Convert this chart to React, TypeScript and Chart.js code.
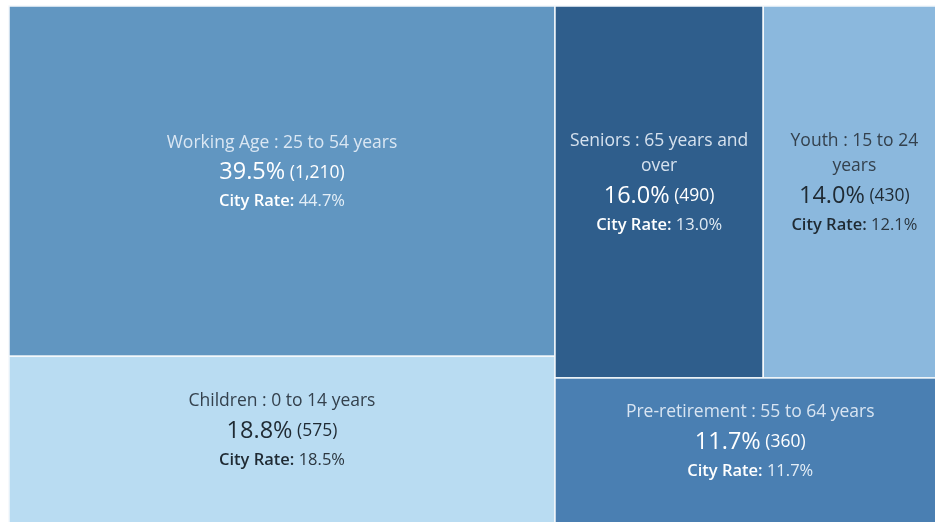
import { useEffect, useRef } from 'react';
import { Chart, registerables } from 'chart.js';
Chart.register(...registerables);

const categories = [
  'Working Age : 25 to 54 years',
  'Children : 0 to 14 years',
  'Seniors : 65 years and over',
  'Youth : 15 to 24 years',
  'Pre-retirement : 55 to 64 years',
];
const shares = [39.5, 18.8, 16.0, 14.0, 11.7];
const counts = [1210, 575, 490, 430, 360];
const cityRates = [44.7, 18.5, 13.0, 12.1, 11.7];
const fillColors = ['#6196c1', '#b9dcf2', '#2f5e8c', '#8bb8dd', '#4a7fb2'];
const darkText = [false, true, false, true, false];

// treemap nesting: h = side by side, v = stacked
type Node = number | { dir: 'h' | 'v'; children: Node[] };
const layoutTree: Node = {
  dir: 'h',
  children: [
    { dir: 'v', children: [0, 1] },
    { dir: 'v', children: [{ dir: 'h', children: [2, 3] }, 4] },
  ],
};

type Rect = { i: number; x0: number; x1: number; y0: number; y1: number };

function nodeSum(n: Node): number {
  if (typeof n === 'number') return shares[n];
  return n.children.reduce((s, c) => s + nodeSum(c), 0);
}

function layout(n: Node, x0: number, x1: number, y0: number, y1: number, out: Rect[]) {
  if (typeof n === 'number') {
    out.push({ i: n, x0, x1, y0, y1 });
    return;
  }
  const total = nodeSum(n);
  let pos = n.dir === 'h' ? x0 : y0;
  for (const c of n.children) {
    const f = nodeSum(c) / total;
    if (n.dir === 'h') {
      const w = (x1 - x0) * f;
      layout(c, pos, pos + w, y0, y1, out);
      pos += w;
    } else {
      const h = (y1 - y0) * f;
      layout(c, x0, x1, pos, pos + h, out);
      pos += h;
    }
  }
}

const rects: Rect[] = [];
layout(layoutTree, 0, 100, 0, 100, rects);

const FONT = '"Open Sans", "Noto Sans", sans-serif';
const LABEL_FONT = `17.5px ${FONT}`;
const PCT_FONT = `23.5px ${FONT}`;
const COUNT_FONT = `17.5px ${FONT}`;
const CITY_BOLD = `600 16.5px ${FONT}`;
const CITY_FONT = `16.5px ${FONT}`;

function wrap(ctx: CanvasRenderingContext2D, text: string, maxW: number): string[] {
  const words = text.split(' ');
  const lines: string[] = [];
  let cur = '';
  for (const w of words) {
    const t = cur ? cur + ' ' + w : w;
    if (ctx.measureText(t).width > maxW && cur) {
      lines.push(cur);
      cur = w;
    } else cur = t;
  }
  if (cur) lines.push(cur);
  return lines;
}

type Seg = { text: string; font: string; color: string };
function drawSegs(ctx: CanvasRenderingContext2D, segs: Seg[], cx: number, cy: number) {
  let total = 0;
  const ws = segs.map((s) => {
    ctx.font = s.font;
    const w = ctx.measureText(s.text).width;
    total += w;
    return w;
  });
  let x = cx - total / 2;
  segs.forEach((s, k) => {
    ctx.font = s.font;
    ctx.fillStyle = s.color;
    ctx.fillText(s.text, x, cy);
    x += ws[k];
  });
}

const treemapPlugin = {
  id: 'treemapCells',
  beforeDatasetsDraw(chart: any) {
    const ctx: CanvasRenderingContext2D = chart.ctx;
    const xs = chart.scales.x;
    const ys = chart.scales.y;
    ctx.save();
    for (const r of rects) {
      const px0 = xs.getPixelForValue(r.x0);
      const px1 = xs.getPixelForValue(r.x1);
      const py0 = ys.getPixelForValue(r.y0);
      const py1 = ys.getPixelForValue(r.y1);
      ctx.fillStyle = fillColors[r.i];
      ctx.fillRect(px0, py0, px1 - px0, py1 - py0);
      ctx.strokeStyle = '#f4f8fb';
      ctx.lineWidth = 1.5;
      ctx.strokeRect(px0, py0, px1 - px0, py1 - py0);
    }
    for (const r of rects) {
      const px0 = xs.getPixelForValue(r.x0);
      const px1 = xs.getPixelForValue(r.x1);
      const py0 = ys.getPixelForValue(r.y0);
      const py1 = ys.getPixelForValue(r.y1);
      const cx = (px0 + px1) / 2;
      const cy = (py0 + py1) / 2 - 9;
      const dark = darkText[r.i];
      const labelColor = dark ? '#34414d' : 'rgba(232,240,248,0.9)';
      const mainColor = dark ? '#1f2a33' : '#ffffff';
      const subColor = dark ? '#2c3740' : 'rgba(240,246,252,0.92)';
      ctx.textBaseline = 'middle';
      ctx.textAlign = 'left';
      ctx.font = LABEL_FONT;
      const lines = wrap(ctx, categories[r.i], px1 - px0 - 22);
      const lineH = 25;
      const labelBlock = (lines.length - 1) * lineH;
      const blockH = labelBlock + 30 + 29;
      let y = cy - blockH / 2;
      for (const ln of lines) {
        drawSegs(ctx, [{ text: ln, font: LABEL_FONT, color: labelColor }], cx, y);
        y += lineH;
      }
      y += 30 - lineH;
      drawSegs(
        ctx,
        [
          { text: shares[r.i].toFixed(1) + '%', font: PCT_FONT, color: mainColor },
          { text: ' (' + counts[r.i].toLocaleString('en-US') + ')', font: COUNT_FONT, color: mainColor },
        ],
        cx,
        y
      );
      y += 29;
      drawSegs(
        ctx,
        [
          { text: 'City Rate:', font: CITY_BOLD, color: mainColor },
          { text: ' ' + cityRates[r.i].toFixed(1) + '%', font: CITY_FONT, color: subColor },
        ],
        cx,
        y
      );
    }
    ctx.restore();
  },
};

export default function App() {
  const ref = useRef<HTMLCanvasElement | null>(null);
  useEffect(() => {
    if (!ref.current) return;
    const chart = new Chart(ref.current, {
      type: 'scatter',
      data: {
        datasets: [
          {
            label: 'cells',
            data: rects.map((r) => ({ x: (r.x0 + r.x1) / 2, y: (r.y0 + r.y1) / 2 })),
            pointRadius: 0,
            pointHoverRadius: 0,
          },
        ],
      },
      options: {
        animation: false,
        responsive: false,
        maintainAspectRatio: false,
        layout: { padding: { left: 9, top: 6, right: 0, bottom: 0 } },
        plugins: { legend: { display: false }, tooltip: { enabled: false } },
        scales: {
          x: { type: 'linear', min: 0, max: (926 / 936.5) * 100, display: false },
          y: { type: 'linear', min: 0, max: (516 / 517) * 100, reverse: true, display: false },
        },
      },
      plugins: [treemapPlugin],
    });
    return () => chart.destroy();
  }, []);
  return (
    <div style={{ position: 'fixed', left: 0, top: 0, width: 935, height: 522, background: '#ffffff' }}>
      <canvas ref={ref} width={935} height={522} style={{ width: 935, height: 522, display: 'block' }} />
    </div>
  );
}
